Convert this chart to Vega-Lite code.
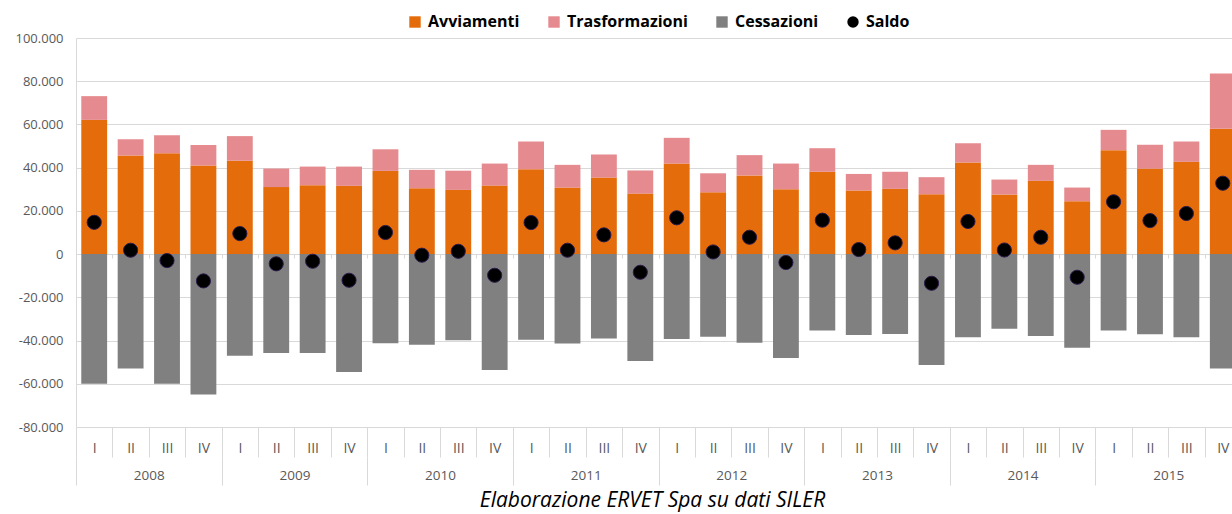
{
  "$schema": "https://vega.github.io/schema/vega-lite/v6.json",
  "autosize": "none",
  "width": 1165,
  "height": 389,
  "padding": {"left": 76, "top": 38, "right": 0, "bottom": 87},
  "config": {
    "locale": {"number": {"decimal": ",", "thousands": ".", "grouping": [3], "currency": ["", " €"], "minus": "-"}},
    "view": {"stroke": null},
    "font": "Open Sans",
    "legend": {"layout": {"top": {"anchor": "middle"}}}
  },
  "title": {
    "text": "Elaborazione ERVET Spa su dati SILER",
    "orient": "bottom",
    "anchor": "middle",
    "font": "Open Sans",
    "fontStyle": "italic",
    "fontWeight": "normal",
    "fontSize": 21,
    "color": "#000000",
    "offset": 4,
    "dx": -6
  },
  "data": {
    "values": [
      {"q": "2008-I", "Avviamenti": 62100, "Trasformazioni": 11000, "Cessazioni": -60000, "Saldo": 14700},
      {"q": "2008-II", "Avviamenti": 45600, "Trasformazioni": 7500, "Cessazioni": -52900, "Saldo": 1800},
      {"q": "2008-III", "Avviamenti": 46700, "Trasformazioni": 8300, "Cessazioni": -60000, "Saldo": -3000},
      {"q": "2008-IV", "Avviamenti": 41000, "Trasformazioni": 9500, "Cessazioni": -65000, "Saldo": -12400},
      {"q": "2009-I", "Avviamenti": 43200, "Trasformazioni": 11400, "Cessazioni": -47000, "Saldo": 9500},
      {"q": "2009-II", "Avviamenti": 31000, "Trasformazioni": 8600, "Cessazioni": -45800, "Saldo": -4500},
      {"q": "2009-III", "Avviamenti": 31900, "Trasformazioni": 8600, "Cessazioni": -45800, "Saldo": -3300},
      {"q": "2009-IV", "Avviamenti": 31600, "Trasformazioni": 8900, "Cessazioni": -54600, "Saldo": -12100},
      {"q": "2010-I", "Avviamenti": 38500, "Trasformazioni": 10000, "Cessazioni": -41300, "Saldo": 10000},
      {"q": "2010-II", "Avviamenti": 30500, "Trasformazioni": 8500, "Cessazioni": -41900, "Saldo": -500},
      {"q": "2010-III", "Avviamenti": 29700, "Trasformazioni": 8900, "Cessazioni": -39900, "Saldo": 1300},
      {"q": "2010-IV", "Avviamenti": 31700, "Trasformazioni": 10200, "Cessazioni": -53600, "Saldo": -9800},
      {"q": "2011-I", "Avviamenti": 39300, "Trasformazioni": 12800, "Cessazioni": -39600, "Saldo": 14600},
      {"q": "2011-II", "Avviamenti": 30800, "Trasformazioni": 10500, "Cessazioni": -41400, "Saldo": 1800},
      {"q": "2011-III", "Avviamenti": 35400, "Trasformazioni": 10700, "Cessazioni": -39000, "Saldo": 8900},
      {"q": "2011-IV", "Avviamenti": 28000, "Trasformazioni": 10700, "Cessazioni": -49500, "Saldo": -8400},
      {"q": "2012-I", "Avviamenti": 41900, "Trasformazioni": 11900, "Cessazioni": -39300, "Saldo": 16800},
      {"q": "2012-II", "Avviamenti": 28600, "Trasformazioni": 8800, "Cessazioni": -38200, "Saldo": 1000},
      {"q": "2012-III", "Avviamenti": 36400, "Trasformazioni": 9400, "Cessazioni": -41000, "Saldo": 7800},
      {"q": "2012-IV", "Avviamenti": 30000, "Trasformazioni": 11900, "Cessazioni": -48100, "Saldo": -3900},
      {"q": "2013-I", "Avviamenti": 38100, "Trasformazioni": 10900, "Cessazioni": -35300, "Saldo": 15700},
      {"q": "2013-II", "Avviamenti": 29400, "Trasformazioni": 7700, "Cessazioni": -37400, "Saldo": 2100},
      {"q": "2013-III", "Avviamenti": 30200, "Trasformazioni": 7900, "Cessazioni": -37000, "Saldo": 5200},
      {"q": "2013-IV", "Avviamenti": 27700, "Trasformazioni": 7900, "Cessazioni": -51300, "Saldo": -13500},
      {"q": "2014-I", "Avviamenti": 42400, "Trasformazioni": 8900, "Cessazioni": -38500, "Saldo": 15100},
      {"q": "2014-II", "Avviamenti": 27600, "Trasformazioni": 6900, "Cessazioni": -34500, "Saldo": 1900},
      {"q": "2014-III", "Avviamenti": 33900, "Trasformazioni": 7400, "Cessazioni": -37900, "Saldo": 7800},
      {"q": "2014-IV", "Avviamenti": 24500, "Trasformazioni": 6300, "Cessazioni": -43300, "Saldo": -10700},
      {"q": "2015-I", "Avviamenti": 48100, "Trasformazioni": 9400, "Cessazioni": -35300, "Saldo": 24200},
      {"q": "2015-II", "Avviamenti": 39600, "Trasformazioni": 11000, "Cessazioni": -37100, "Saldo": 15500},
      {"q": "2015-III", "Avviamenti": 42700, "Trasformazioni": 9400, "Cessazioni": -38500, "Saldo": 18800},
      {"q": "2015-IV", "Avviamenti": 58000, "Trasformazioni": 25600, "Cessazioni": -52900, "Saldo": 32800}
    ]
  },
  "transform": [
    {"fold": ["Avviamenti", "Trasformazioni", "Cessazioni", "Saldo"], "as": ["serie", "v"]}
  ],
  "encoding": {
    "y": {
      "field": "v",
      "type": "quantitative",
      "scale": {"domain": [-80000, 100000], "nice": false, "zero": false},
      "axis": {
        "title": null,
        "values": [-80000, -60000, -40000, -20000, 0, 20000, 40000, 60000, 80000, 100000],
        "format": ",d",
        "grid": true,
        "gridColor": "#D9D9D9",
        "gridWidth": 1,
        "domain": true,
        "domainColor": "#D9D9D9",
        "ticks": false,
        "labelPadding": 13,
        "labelFontSize": 13,
        "labelFont": "Open Sans",
        "labelColor": "#595959"
      }
    },
    "color": {
      "field": "serie",
      "type": "nominal",
      "scale": {
        "domain": ["Avviamenti", "Trasformazioni", "Cessazioni", "Saldo"],
        "range": ["#E46C0A", "#E58A8E", "#808080", "#000000"]
      },
      "legend": {
        "orient": "top",
        "direction": "horizontal",
        "title": null,
        "labelFont": "Open Sans",
        "labelFontSize": 16,
        "labelFontWeight": "bold",
        "labelColor": "#000000",
        "symbolSize": 130,
        "symbolStrokeWidth": 0,
        "columnPadding": 26,
        "labelOffset": 5,
        "offset": 8
      }
    }
  },
  "layer": [
    {
      "transform": [{"filter": "datum.serie === 'Avviamenti' || datum.serie === 'Trasformazioni'"}],
      "mark": {"type": "bar", "width": {"band": 0.71}},
      "encoding": {
        "order": {"field": "serie", "type": "nominal", "sort": "ascending"},
        "x": {
          "field": "q",
          "type": "ordinal",
          "sort": null,
          "scale": {"paddingInner": 0, "paddingOuter": 0},
          "axis": {
            "title": null,
            "orient": "bottom",
            "domain": false,
            "grid": false,
            "tickBand": "extent",
            "tickSize": 30,
            "tickColor": "#D9D9D9",
            "labelExpr": "split(datum.value, '-')[1]",
            "labelAngle": 0,
            "labelPadding": -16,
            "labelOverlap": false,
            "labelFontSize": 14,
            "labelFont": "Open Sans",
            "labelColor": "#595959"
          }
        }
      }
    },
    {
      "transform": [{"filter": "datum.serie === 'Cessazioni'"}],
      "mark": {"type": "bar", "width": {"band": 0.71}},
      "encoding": {
        "x": {
          "field": "q",
          "type": "ordinal",
          "sort": null,
          "axis": {
            "title": null,
            "orient": "bottom",
            "offset": 30,
            "domain": false,
            "grid": false,
            "tickBand": "extent",
            "tickSize": 28,
            "tickColor": "#D9D9D9",
            "tickOpacity": {"condition": {"test": "datum.extra || split(datum.value, '-')[1] === 'IV'", "value": 1}, "value": 0},
            "labelExpr": "split(datum.value, '-')[1] === 'II' ? split(datum.value, '-')[0] : ''",
            "labelOffset": 18.2,
            "labelAngle": 0,
            "labelPadding": -17,
            "labelOverlap": false,
            "labelFontSize": 13.5,
            "labelFont": "Open Sans",
            "labelColor": "#595959"
          }
        }
      }
    },
    {
      "transform": [{"filter": "datum.serie === 'Saldo'"}],
      "mark": {"type": "point", "filled": true, "size": 200, "opacity": 1, "stroke": "#2B1B4A", "strokeWidth": 1},
      "encoding": {
        "x": {
          "field": "q",
          "type": "ordinal",
          "sort": null,
          "axis": {
            "title": null,
            "orient": "bottom",
            "offset": -173,
            "domain": false,
            "grid": false,
            "labels": false,
            "tickBand": "extent",
            "tickSize": 4,
            "tickColor": "#D9D9D9"
          }
        },
        "shape": {
          "field": "serie",
          "type": "nominal",
          "scale": {
            "domain": ["Avviamenti", "Trasformazioni", "Cessazioni", "Saldo"],
            "range": ["square", "square", "square", "circle"]
          }
        }
      }
    }
  ],
  "resolve": {"axis": {"x": "independent"}}
}
